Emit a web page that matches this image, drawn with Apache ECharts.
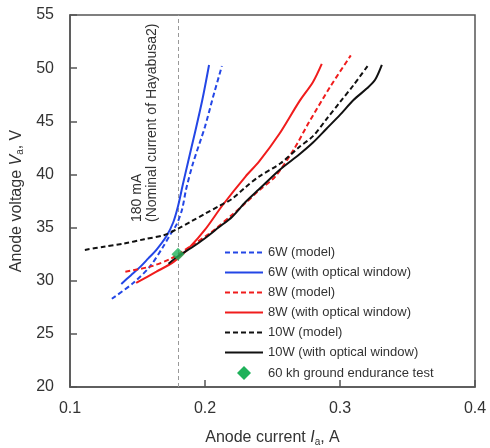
<!DOCTYPE html>
<html>
<head>
<meta charset="utf-8">
<script src="https://cdn.jsdelivr.net/npm/echarts@6/dist/echarts.min.js"></script>
<style>
  html, body { margin: 0; padding: 0; background: #fff; }
  #chart { width: 490px; height: 448px; }
</style>
</head>
<body>
<div id="chart"></div>
<script>
// anode current (A) / anode voltage (V)
const w6ModelI = [0.131, 0.147, 0.159, 0.169, 0.175, 0.179, 0.183, 0.186, 0.191, 0.2, 0.206, 0.2125];
const w6ModelV = [28.3, 29.8, 31.3, 33.2, 34.5, 35.3, 36.7, 38.6, 41.0, 44.5, 47.3, 50.2];
const w6WinI = [0.138, 0.145, 0.152, 0.158, 0.164, 0.1715, 0.1765, 0.18, 0.1835, 0.1875, 0.1925, 0.198, 0.203];
const w6WinV = [29.7, 30.5, 31.3, 32.1, 32.9, 34.2, 35.5, 37.0, 39.0, 41.2, 43.9, 47.0, 50.3];
const w8ModelI = [0.141, 0.16, 0.175, 0.19, 0.204, 0.221, 0.23, 0.24, 0.252, 0.266, 0.277, 0.293, 0.308];
const w8ModelV = [30.85, 31.35, 32.1, 33.3, 34.5, 36.3, 37.3, 38.5, 39.8, 42.4, 44.9, 48.3, 51.2];
const w8WinI = [0.149, 0.164, 0.177, 0.189, 0.2, 0.213, 0.23, 0.24, 0.255, 0.27, 0.28, 0.2865];
const w8WinV = [29.8, 30.85, 31.8, 33.2, 34.8, 37.1, 39.8, 41.2, 43.8, 46.9, 48.7, 50.4];
const w10ModelI = [0.111, 0.125, 0.14, 0.155, 0.17, 0.18, 0.19, 0.2, 0.21, 0.22, 0.23, 0.24, 0.256, 0.27, 0.28, 0.29, 0.3, 0.31, 0.321];
const w10ModelV = [32.9, 33.2, 33.5, 33.9, 34.3, 34.9, 35.6, 36.3, 37.0, 37.7, 38.8, 39.8, 41.05, 42.6, 43.6, 45.2, 46.8, 48.4, 50.3];
const w10WinI = [0.173, 0.18, 0.19, 0.2, 0.21, 0.22, 0.23, 0.24, 0.255, 0.27, 0.28, 0.29, 0.3, 0.31, 0.32, 0.326, 0.331];
const w10WinV = [31.6, 32.3, 33.1, 34.0, 35.0, 36.0, 37.4, 38.6, 40.4, 41.9, 43.0, 44.3, 45.6, 47.0, 48.1, 48.9, 50.3];
const enduranceI = [0.18];
const enduranceV = [32.5];
const nominalCurrent = 0.18;

const xTicks = [0.1, 0.2, 0.3, 0.4];
const yTicks = [20, 25, 30, 35, 40, 45, 50, 55];

const zip = (a, b) => a.map((v, i) => [v, b[i]]);
const font = "'Liberation Sans', Arial, sans-serif";

const curve = (name, xs, ys, color, dashed) => ({
  name,
  type: 'line',
  data: zip(xs, ys),
  smooth: 0.3,
  symbol: 'none',
  lineStyle: { color, width: 2, type: dashed ? [5, 3] : 'solid' },
  itemStyle: { color },
  z: 3
});

const axisName = (txt, sym, unit) => ({
  text: '{n|' + txt + ' }{i|' + sym + '}{s|a}{n|, ' + unit + '}',
  rich: {
    n: { fontSize: 16, color: '#333', fontFamily: font },
    i: { fontSize: 16, color: '#333', fontStyle: 'italic', fontFamily: font },
    s: { fontSize: 10, color: '#333', fontFamily: font, verticalAlign: 'bottom', padding: [8, 0, 0, 0] }
  }
});
const xName = axisName('Anode current', 'I', 'A');
const yName = axisName('Anode voltage', 'V', 'V');

const chart = echarts.init(document.getElementById('chart'));
chart.setOption({
  animation: false,
  textStyle: { fontFamily: font },
  grid: {
    left: 70, right: 15, top: 15, bottom: 61,
    outerBoundsMode: 'none',
    containLabel: false,
    show: true, borderColor: '#555', borderWidth: 1.5, backgroundColor: 'transparent'
  },
  legend: {
    orient: 'vertical',
    left: 219,
    top: 241,
    itemWidth: 38,
    itemHeight: 14,
    itemGap: 7,
    itemStyle: { opacity: 0 },
    textStyle: { fontFamily: font, fontSize: 13, color: '#333' },
    data: ['6W (model)', '6W (with optical window)', '8W (model)', '8W (with optical window)',
      '10W (model)', '10W (with optical window)',
      { name: '60 kh ground endurance test', icon: 'path://M5,0L10,5L5,10L0,5Z', itemStyle: { opacity: 1 } }]
  },
  xAxis: {
    type: 'value',
    min: xTicks[0],
    max: xTicks[xTicks.length - 1],
    interval: 0.1,
    name: xName.text,
    nameLocation: 'middle',
    nameGap: 42,
    nameTextStyle: { rich: xName.rich },
    axisLine: { lineStyle: { color: '#555', width: 1.5 } },
    axisTick: { inside: true, length: 7, lineStyle: { color: '#555', width: 1.5 } },
    axisLabel: { fontSize: 16, color: '#333', margin: 14, formatter: v => v.toFixed(1) },
    splitLine: { show: false }
  },
  yAxis: {
    type: 'value',
    min: yTicks[0],
    max: yTicks[yTicks.length - 1],
    interval: 5,
    name: yName.text,
    nameLocation: 'middle',
    nameGap: 44,
    nameTextStyle: { rich: yName.rich },
    axisLine: { show: true, lineStyle: { color: '#555', width: 1.5 } },
    axisTick: { show: true, inside: true, length: 7, lineStyle: { color: '#555', width: 1.5 } },
    axisLabel: { fontSize: 16, color: '#333', margin: 16 },
    splitLine: { show: false }
  },
  graphic: [{
    type: 'text',
    x: 160,
    y: 222,
    rotation: Math.PI / 2,
    style: {
      text: '180 mA\n(Nominal current of Hayabusa2)',
      font: '14px ' + font,
      fill: '#333',
      textAlign: 'left',
      textVerticalAlign: 'bottom',
      lineHeight: 15
    }
  }],
  series: [
    curve('6W (model)', w6ModelI, w6ModelV, '#2346e6', true),
    curve('6W (with optical window)', w6WinI, w6WinV, '#2346e6', false),
    curve('8W (model)', w8ModelI, w8ModelV, '#f01c1c', true),
    curve('8W (with optical window)', w8WinI, w8WinV, '#f01c1c', false),
    curve('10W (model)', w10ModelI, w10ModelV, '#111', true),
    curve('10W (with optical window)', w10WinI, w10WinV, '#111', false),
    {
      name: '60 kh ground endurance test',
      type: 'scatter',
      data: zip(enduranceI, enduranceV),
      symbol: 'diamond',
      symbolSize: 13,
      itemStyle: { color: '#1fb15a' },
      z: 5,
      markLine: {
        silent: true,
        symbol: 'none',
        label: { show: false },
        lineStyle: { color: '#999', width: 1, type: [4, 3] },
        data: [{ xAxis: nominalCurrent }],
        z: 1
      }
    }
  ]
});
</script>
</body>
</html>
